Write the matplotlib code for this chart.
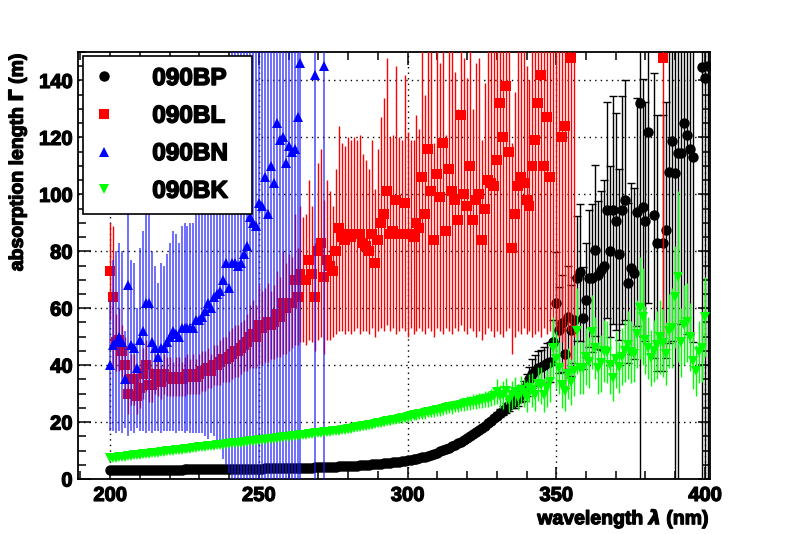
import matplotlib
matplotlib.use("Agg")
import matplotlib.pyplot as plt
import matplotlib.patheffects as pe
from matplotlib.lines import Line2D
from matplotlib.ticker import MultipleLocator

plt.rcParams['font.family'] = ['Liberation Sans', 'DejaVu Sans']
plt.rcParams['font.weight'] = 'bold'
plt.rcParams['mathtext.fontset'] = 'dejavusans'

labels = ["090BP", "090BL", "090BN", "090BK"]

# ---- 090BP (black) ----
bp_x = list(range(200, 382)) + [383, 384, 386, 387, 388, 389, 390, 391, 392,
                                393, 394, 395, 396, 399, 400, 401]
bp_val = [
    3.2, 3.2, 3.2, 3.2, 3.2, 3.2, 3.2, 3.2, 3.2, 3.2,
    3.2, 3.2, 3.2, 3.3, 3.3, 3.3, 3.3, 3.3, 3.3, 3.3,
    3.3, 3.3, 3.3, 3.3, 3.3, 3.4, 3.4, 3.4, 3.4, 3.4,
    3.4, 3.4, 3.4, 3.4, 3.4, 3.5, 3.5, 3.5, 3.5, 3.5,
    3.5, 3.5, 3.5, 3.5, 3.6, 3.6, 3.6, 3.6, 3.6, 3.6,
    3.6, 3.6, 3.7, 3.7, 3.7, 3.7, 3.7, 3.8, 3.8, 3.8,
    3.8, 3.8, 3.9, 3.9, 3.9, 3.9, 4.0, 4.0, 4.0, 4.1,
    4.1, 4.1, 4.2, 4.2, 4.2, 4.3, 4.3, 4.4, 4.4, 4.5,
    4.5, 4.6, 4.6, 4.7, 4.8, 4.8, 4.9, 5.0, 5.1, 5.2,
    5.3, 5.4, 5.5, 5.6, 5.7, 5.8, 6.0, 6.1, 6.2, 6.4,
    6.5, 6.7, 6.9, 7.1, 7.3, 7.6, 7.9, 8.2, 8.5, 8.9,
    9.3, 9.7, 10.1, 10.5, 11.0, 11.5, 12.0, 12.5, 13.1, 13.7,
    14.3, 15.0, 15.7, 16.4, 17.1, 17.9, 18.7, 19.5, 20.4, 21.3,
    22.2, 23.1, 24.0, 25.0, 26.0, 27.0, 27.5, 28.5, 30.0, 31.0,
    33.0, 35.0, 37.0, 38.0, 39.0, 39.3, 40.0, 40.7, 41.0, 48.0,
    61.7, 52.3, 54.7, 44.0, 56.8, 52.3, 55.8, 70.5, 72.6, 56.5,
    62.8, 70.5, 70.5, 80.4, 71.6, 73.3, 75.0, 94.4, 80.0, 94.4,
    90.5, 79.0, 94.4, 98.0, 68.8, 74.0, 72.3, 93.7, 132.0, 95.4,
    90.5, 121.8,
    92.6, 83.0, 82.8, 87.4, 107.7, 118.6, 107.4, 114.4, 114.4,
    125.0, 121.0, 115.8, 113.0, 144.6, 141.0, 145.0,
]
bp_err = [
    0.2, 0.2, 0.2, 0.2, 0.2, 0.2, 0.2, 0.2, 0.2, 0.2,
    0.2, 0.2, 0.2, 0.2, 0.2, 0.2, 0.2, 0.2, 0.2, 0.2,
    0.2, 0.2, 0.2, 0.2, 0.2, 0.2, 0.2, 0.2, 0.2, 0.2,
    0.2, 0.2, 0.2, 0.2, 0.2, 0.2, 0.2, 0.2, 0.2, 0.2,
    0.2, 0.2, 0.2, 0.2, 0.2, 0.2, 0.2, 0.2, 0.2, 0.2,
    0.2, 0.2, 0.2, 0.2, 0.2, 0.2, 0.2, 0.2, 0.2, 0.2,
    0.2, 0.2, 0.2, 0.2, 0.2, 0.2, 0.2, 0.2, 0.2, 0.2,
    0.2, 0.2, 0.2, 0.2, 0.2, 0.2, 0.2, 0.2, 0.2, 0.2,
    0.2, 0.2, 0.2, 0.2, 0.2, 0.2, 0.2, 0.2, 0.2, 0.2,
    0.2, 0.2, 0.2, 0.2, 0.2, 0.2, 0.2, 0.2, 0.2, 0.2,
    0.2, 0.2, 0.2, 0.2, 0.2, 0.2, 0.2, 0.2, 0.2, 0.2,
    0.2, 0.2, 0.2, 0.2, 0.2, 0.2, 0.2, 0.2, 0.2, 0.2,
    0.4, 0.4, 0.5, 0.5, 0.6, 0.6, 0.7, 0.8, 0.9, 1.0,
    1.2, 1.4, 1.6, 1.8, 2.0, 2.2, 2.5, 2.8, 3.0, 3.5,
    4.0, 4.5, 5.0, 5.5, 6.0, 6.0, 6.5, 7.0, 7.0, 8.0,
    18, 15, 17, 12, 18, 16, 15, 22, 24, 18,
    20, 24, 26, 30, 26, 28, 30, 38, 30, 40,
    38, 30, 40, 42, 28, 30, 30, 40, 135, 45,
    42, 60,
    50, 45, 45, 45, 60, 70, 120, 125, 60,
    70, 70, 65, 65, 150, 150, 150,
]

# ---- 090BL (red) ----
bl_x = list(range(200, 357)) + [386]
bl_val = [
    73, 64, 48, 49, 45, 40, 30, 35, 35, 29,
    32, 37, 40, 33, 33, 37, 36, 34, 37, 36,
    36, 35, 36, 36, 35, 36, 37, 36, 37, 36,
    37, 38, 38, 39, 38, 40, 40, 41, 42, 42,
    43, 44, 45, 45, 46, 47, 48, 50, 51, 50,
    54, 53, 54, 55, 54, 55, 58, 57, 62, 60,
    62, 62, 70, 64, 72, 70, 70, 77, 72, 64,
    80, 83, 71, 77, 75, 73, 80, 88, 85, 84,
    86, 85, 86, 86, 86, 83, 82, 80, 86, 76,
    84, 90, 93, 101, 86, 87, 98, 86, 86, 97,
    86, 86, 85, 90, 88, 106, 93, 116, 101, 84,
    107, 99, 118, 87, 109, 101, 98, 91, 128, 100,
    96, 110, 91, 98, 100, 84, 95, 105, 104, 103,
    112, 132, 120, 138, 115, 81, 93, 103, 106, 104,
    98, 96, 110, 119, 132, 142, 110, 127, 106, 165,
    170, 160, 120, 124, 165, 148, 160,
    148,
]
bl_lo = [
    56, 39, 38, 38, 36, 30, 23, 26, 26, 23,
    25, 28, 31, 27, 27, 30, 29, 28, 30, 29,
    29, 29, 29, 29, 29, 29, 30, 30, 30, 30,
    30, 31, 31, 32, 32, 33, 33, 33, 34, 34,
    34, 35, 36, 36, 37, 38, 38, 39, 39, 39,
    40, 40, 41, 41, 42, 42, 43, 43, 44, 44,
    45, 46, 47, 47, 48, 48, 47, 49, 48, 45,
    49, 50, 44, 49, 49, 50, 51, 52, 52, 51,
    52, 51, 52, 53, 51, 52, 52, 51, 53, 50,
    52, 53, 52, 54, 52, 53, 51, 52, 53, 52,
    50, 53, 51, 52, 53, 52, 51, 53, 52, 50,
    53, 52, 51, 53, 52, 51, 53, 52, 54, 52,
    51, 53, 52, 50, 52, 49, 51, 53, 52, 50,
    52, 51, 50, 52, 53, 44, 50, 52, 51, 53,
    51, 52, 50, 51, 52, 50, 53, 51, 52, 55,
    52, 50, 48, 30, 52, 42, 50,
    44,
]

# ---- 090BN (blue) ----
bn_x = list(range(200, 265)) + [269, 272]
bn_val = [
    40, 47, 48, 50, 48, 35, 68, 47, 46, 39,
    49, 52, 62, 62, 48, 46, 43, 46, 46, 48,
    50, 52, 51, 50, 53, 53, 53, 53, 53, 56,
    56, 57, 59, 62, 60, 64, 65, 66, 70, 76,
    67, 76, 76, 75, 76, 79, 82, 92, 90, 89,
    97, 96, 106, 93, 110, 104, 125, 119, 120, 111,
    117, 115, 116, 127, 146,
    142, 145,
]
bn_lo = [
    17, 17, 16, 17, 16, 18, 15, 17, 16, 18,
    17, 17, 16, 17, 16, 17, 17, 16, 17, 17,
    17, 17, 16, 17, 17, 16, 17, 16, 16, 16,
    16, 16, 15, 14, 16, 15, 13, 12, 7, 5,
    2, -5, -10, -8, -12, -10, -15, -20, -18, -20,
    -25, -22, -30, -25, -30, -28, -40, -35, -38, -30,
    -35, -32, -30, -40, -50,
    -50, -50,
]

# ---- 090BK (green) ----
bk_x = list(range(200, 401))
bk_val = [
    7.3, 7.4, 7.5, 7.7, 7.8, 7.9, 8.1, 8.2, 8.3, 8.4,
    8.6, 8.7, 8.8, 8.9, 9.1, 9.2, 9.3, 9.4, 9.6, 9.7,
    9.8, 9.9, 10.1, 10.2, 10.3, 10.4, 10.6, 10.7, 10.8, 11.0,
    11.1, 11.2, 11.3, 11.5, 11.6, 11.7, 11.8, 12.0, 12.1, 12.2,
    12.3, 12.5, 12.6, 12.7, 12.8, 13.0, 13.1, 13.2, 13.3, 13.5,
    13.6, 13.7, 13.8, 14.0, 14.1, 14.2, 14.3, 14.5, 14.6, 14.7,
    14.9, 15.0, 15.1, 15.2, 15.4, 15.5, 15.6, 15.7, 15.9, 16.0,
    16.1, 16.2, 16.4, 16.5, 16.6, 16.7, 16.9, 17.0, 17.1, 17.3,
    17.5, 17.7, 17.9, 18.1, 18.3, 18.5, 18.7, 18.9, 19.1, 19.3,
    19.5, 19.8, 20.0, 20.2, 20.4, 20.6, 20.9, 21.1, 21.3, 21.6,
    21.9, 22.0, 22.4, 22.5, 22.9, 23.0, 23.1, 23.6, 23.6, 23.9,
    24.3, 24.3, 24.7, 24.8, 25.2, 25.2, 25.6, 25.7, 26.1, 26.2,
    26.6, 26.6, 27.1, 27.1, 27.5, 27.6, 28.0, 28.1, 28.6, 29.0,
    30.7, 29.0, 29.5, 31.0, 27.7, 29.5, 30.7, 28.8, 31.2, 30.2,
    28.9, 32.0, 31.2, 29.5, 33.5, 33.0, 29.5, 31.8, 34.0, 46.0,
    42.0, 39.0, 33.0, 31.0, 37.0, 34.0, 38.0, 52.0, 39.0, 39.0,
    43.0, 41.0, 51.6, 46.0, 39.0, 40.7, 45.0, 44.6, 40.0, 35.4,
    42.0, 39.3, 43.0, 45.0, 47.0, 44.6, 44.0, 51.0, 60.0, 57.0,
    48.8, 46.0, 42.5, 45.0, 47.0, 50.0, 47.7, 44.0, 52.0, 53.0,
    64.0, 71.0, 48.0, 54.0, 55.0, 50.0, 41.5, 38.0, 44.6, 46.0,
    57.0,
]
bk_err = [
    0.8, 0.8, 0.8, 0.8, 0.8, 0.8, 0.8, 0.8, 0.8, 0.8,
    0.8, 0.8, 0.8, 0.8, 0.8, 0.8, 0.8, 0.8, 0.8, 0.8,
    0.8, 0.8, 0.8, 0.8, 0.8, 0.8, 0.8, 0.8, 0.8, 0.8,
    0.8, 0.8, 0.8, 0.8, 0.8, 0.8, 0.8, 0.8, 0.8, 0.8,
    0.8, 0.8, 0.8, 0.8, 0.8, 0.8, 0.8, 0.8, 0.8, 0.8,
    0.8, 0.8, 0.8, 0.8, 0.8, 0.8, 0.8, 0.8, 0.8, 0.8,
    0.8, 0.8, 0.8, 0.8, 0.8, 0.8, 0.8, 0.8, 0.8, 0.8,
    0.8, 0.8, 0.8, 0.8, 0.8, 0.8, 0.8, 0.8, 0.8, 0.8,
    1.2, 1.2, 1.2, 1.2, 1.2, 1.2, 1.2, 1.2, 1.2, 1.2,
    1.3, 1.3, 1.3, 1.3, 1.4, 1.4, 1.4, 1.4, 1.5, 1.5,
    1.8, 1.8, 1.8, 1.8, 1.8, 1.9, 1.9, 1.9, 1.9, 2.0,
    2.0, 2.0, 2.1, 2.1, 2.1, 2.2, 2.2, 2.2, 2.3, 2.3,
    2.5, 2.5, 2.6, 2.6, 2.7, 2.7, 2.8, 2.8, 2.9, 3.0,
    4.5, 4.0, 5.0, 4.5, 4.0, 5.0, 5.0, 4.5, 5.0, 5.0,
    5.5, 5.0, 6.0, 5.5, 6.0, 6.5, 6.0, 6.5, 7.0, 11.0,
    10, 9, 8, 7, 9, 8, 9, 15, 9, 9,
    10, 9, 13, 11, 9, 10, 11, 11, 10, 8,
    10, 9, 10, 11, 12, 11, 10, 12, 18, 17,
    12, 11, 10, 11, 12, 13, 12, 11, 13, 14,
    18, 30, 12, 14, 14, 12, 10, 9, 11, 12,
    14,
]

bl_err = [v - lo for v, lo in zip(bl_val, bl_lo)]
bn_err = [v - lo for v, lo in zip(bn_val, bn_lo)]

green = (0, 1, 0)
heavy = [pe.withStroke(linewidth=0.9, foreground='black')]

fig = plt.figure(figsize=(7.89, 5.34), dpi=100)
ax = fig.add_axes([0.0989, 0.103, 0.801, 0.7996])

ax.errorbar(bp_x, bp_val, yerr=bp_err, fmt='o', color='black', ms=6.5,
            ecolor='black', elinewidth=1.0, capsize=3.2, capthick=1.0, zorder=2)
ax.errorbar(bl_x, bl_val, yerr=bl_err, fmt='s', color='red', ms=7.3,
            mew=0, ecolor='red', elinewidth=1.0, capsize=3.2, capthick=1.0,
            zorder=3)
ax.errorbar(bn_x, bn_val, yerr=bn_err, fmt='^', color='blue', ms=7.8,
            mew=0, ecolor=(0.1, 0.1, 1.0, 0.8), elinewidth=1.1, capsize=3.2,
            capthick=1.1, zorder=4)
ax.errorbar(bk_x, bk_val, yerr=bk_err, fmt='v', color=green, ms=7.8,
            mew=0, ecolor=green, elinewidth=1.0, capsize=3.2, capthick=1.0,
            zorder=5)

ax.set_xlim(189.2, 401.7)
ax.set_ylim(0, 150)

ax.xaxis.set_major_locator(MultipleLocator(50))
ax.xaxis.set_minor_locator(MultipleLocator(10))
ax.yaxis.set_major_locator(MultipleLocator(20))
ax.yaxis.set_minor_locator(MultipleLocator(5))
ax.tick_params(which='both', direction='in', top=True, right=True,
               labelsize=14.5, width=1.1)
ax.tick_params(which='major', length=9)
ax.tick_params(which='minor', length=5.5)
ax.tick_params(axis='x', pad=5)
ax.tick_params(axis='y', pad=4)

ax.grid(True, which='major', color='black', linestyle=(0, (1, 3)), linewidth=1)
for s in ax.spines.values():
    s.set_linewidth(1.3)

ax.set_xlabel(r'wavelength $\lambda$ (nm)', fontsize=14, fontweight='bold',
              loc='right', path_effects=heavy)
ax.xaxis.set_label_coords(1.0, -0.066)
ax.set_ylabel(r'absorption length $\Gamma$ (m)', fontsize=14, fontweight='bold',
              loc='top', path_effects=heavy)
ax.yaxis.set_label_coords(-0.078, 1.0)

handles = [
    Line2D([], [], marker='o', color='black', ls='none', ms=6.5),
    Line2D([], [], marker='s', color='red', ls='none', ms=7.3, mew=0),
    Line2D([], [], marker='^', color='blue', ls='none', ms=7.8, mew=0),
    Line2D([], [], marker='v', color=green, ls='none', ms=7.8, mew=0),
]
leg = ax.legend(handles, labels, loc='upper left',
                bbox_to_anchor=(0.0079, 0.611, 0.267, 0.3796), mode='expand',
                prop={'family': 'Liberation Sans', 'weight': 'bold', 'size': 17.5},
                handlelength=0.8, handletextpad=1.6, labelspacing=0.6,
                borderpad=0.45, borderaxespad=0, fancybox=False, framealpha=1)
leg.get_frame().set_edgecolor('black')
leg.get_frame().set_linewidth(1.2)
leg.set_zorder(10)
for t in leg.get_texts():
    t.set_path_effects([pe.withStroke(linewidth=1.1, foreground='black')])

fig.canvas.draw()
for lab in ax.get_xticklabels() + ax.get_yticklabels():
    lab.set_fontweight('bold')
    lab.set_path_effects(heavy)

fig.savefig('out.png', dpi=100)
